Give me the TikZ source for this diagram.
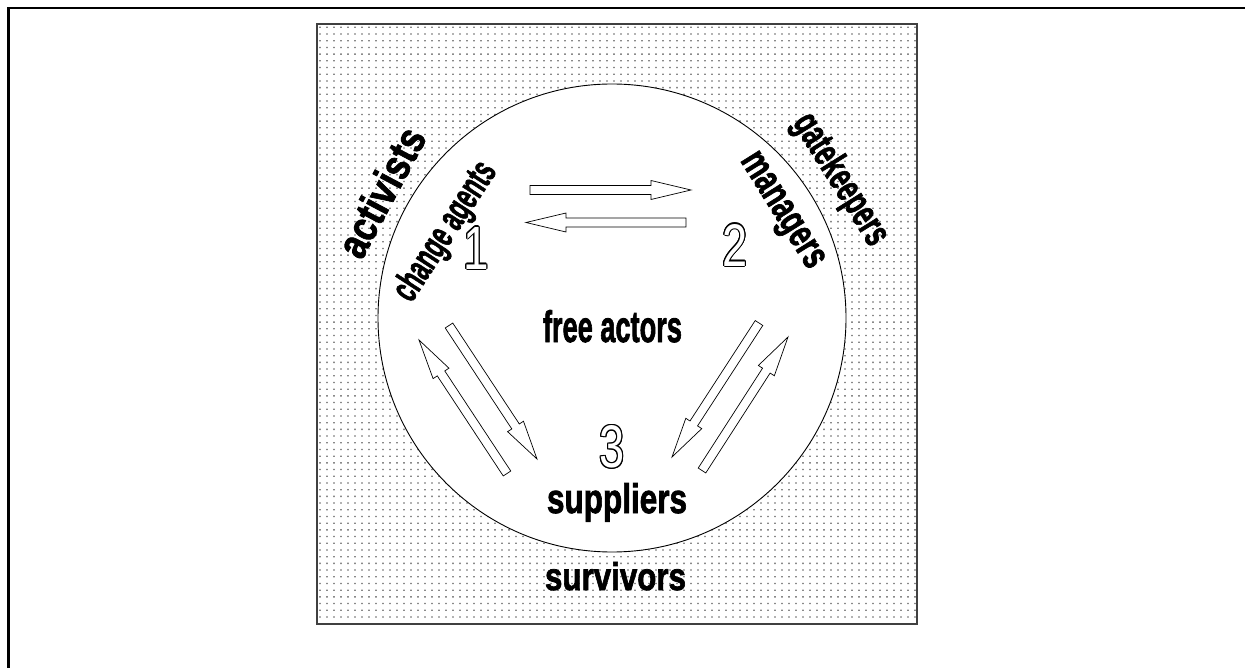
\documentclass[tikz,border=0pt]{standalone}
\usepackage{fontspec}
\usepackage{graphicx}
\usetikzlibrary{calc}
\newfontfamily\lblfont{Liberation Sans}[UprightFont={* Bold},FakeBold=2]
\newfontfamily\digfont{Liberation Sans}
\newcommand\lbl[3]{\resizebox{#1pt}{#2pt}{\lblfont #3}}
\newcommand\dig[1]{\scalebox{0.75}[1]{\resizebox{!}{42pt}{\digfont #1}}}
\tikzset{
  frame/.style={line width=2.8pt,black},
  sq/.style={draw=black!75,line width=1.2pt},
  ring/.style={draw=black,fill=white,line width=0.9pt},
  barrow/.style={draw=black,fill=white,line width=0.7pt,line join=miter},
  lab/.style={inner sep=0pt,text=black},
  digit/.style={inner sep=0pt,text=black},
}
\newcommand\barr[3]{%
  \coordinate (hb) at ($(#2)!#3pt!(#1)$);
  \draw[barrow] ($(#1)!4.5pt!90:(#2)$) -- ($(hb)!4.5pt!-90:(#1)$) -- ($(hb)!9.5pt!-90:(#1)$) -- (#2)
    -- ($(hb)!9.5pt!90:(#1)$) -- ($(hb)!4.5pt!90:(#1)$) -- ($(#1)!4.5pt!-90:(#2)$) -- cycle;}
\newcommand\outdigit[3]{% name, position, digit
  \foreach \a in {0,30,...,330} \path ($(#2)+(\a:1.1)$) node[digit] {\dig{#3}};
  \node[digit,text=white] (#1) at (#2) {\dig{#3}};}
\begin{document}
\begin{tikzpicture}[x=1pt,y=-1pt]
\useasboundingbox (0,0) rectangle (1245,668);
\draw[frame] (8.5,668) -- (8.5,8) -- (1245,8);
% dotted background
\begin{scope}[even odd rule]
  \clip (317,24) rectangle (917,624) (612,318) circle (234);
  \foreach \j in {0,...,90} {
    \fill[black!70] \foreach \i in {0,...,86} {(319.4+7*\i,26.7+6.7*\j) rectangle ++(1.3,1.3)};
  }
\end{scope}
\draw[sq] (317,24) rectangle (917,624);
\draw[ring] (612,318) circle (234);
% arrows
\coordinate (a1t) at (530,190);   \coordinate (a1p) at (691,190);
\coordinate (a2t) at (686,222.5); \coordinate (a2p) at (526,222.5);
\coordinate (a3t) at (507,473.5); \coordinate (a3p) at (419,340);
\coordinate (a4t) at (449,325.5); \coordinate (a4p) at (537,459);
\coordinate (a5t) at (759,323);   \coordinate (a5p) at (672,457);
\coordinate (a6t) at (702,470.5); \coordinate (a6p) at (788,337);
\barr{a1t}{a1p}{40}
\barr{a2t}{a2p}{40}
\barr{a3t}{a3p}{40}
\barr{a4t}{a4p}{39}
\barr{a5t}{a5p}{40}
\barr{a6t}{a6p}{40}
% labels
\node[lab,anchor=base] (free) at (612.5,342) {\lbl{139}{32}{free actors}};
\node[lab,anchor=base] (sup) at (617,513) {\lbl{140}{30}{suppliers}};
\node[lab,anchor=base] (surv) at (615.5,590) {\lbl{141}{28}{survivors}};
\node[lab,rotate=57] (chg) at (446,232) {\lbl{158}{28}{change agents}};
\node[lab,rotate=62] (act) at (381,192) {\lbl{140}{31}{activists}};
\node[lab,rotate=-58] (man) at (780,212) {\lbl{130}{22}{managers}};
\node[lab,rotate=-58] (gate) at (840,180) {\lbl{148}{29}{gatekeepers}};
% outlined digits
\outdigit{d1}{476,248}{1}
\outdigit{d2}{735,245}{2}
\outdigit{d3}{612,447}{3}
\end{tikzpicture}
\end{document}
